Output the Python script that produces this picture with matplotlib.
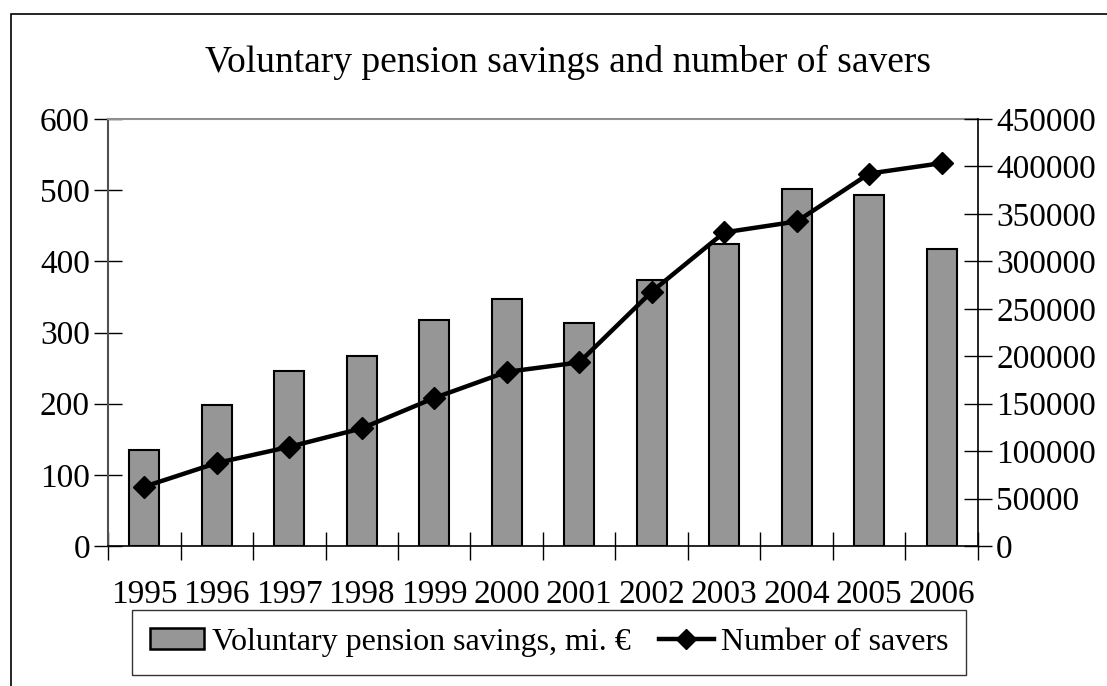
import matplotlib
matplotlib.use("Agg")
import matplotlib.pyplot as plt
from matplotlib.patches import Rectangle
from matplotlib.lines import Line2D
import numpy as np

years = ["1995", "1996", "1997", "1998", "1999", "2000", "2001", "2002", "2003", "2004", "2005", "2006"]
savings = [135, 198, 246, 267, 318, 347, 314, 374, 425, 502, 493, 418]
savers = [62500, 87500, 104500, 124000, 156000, 183500, 193500, 268000, 330500, 342000, 392500, 403500]

plt.rcParams['font.family'] = ['Liberation Serif', 'DejaVu Serif']
FS = 24

fig = plt.figure(figsize=(11.07, 6.86), dpi=100)
# outer chart frame
fig.patches.append(Rectangle((11/1107, -0.1), 1.2, (686-14)/686 + 0.1, transform=fig.transFigure,
                             fill=False, edgecolor='black', linewidth=1.2))

ax = fig.add_axes([108/1107, (686-546)/686, (978-108)/1107, (546-119)/686])
x = np.arange(len(years))
ax.bar(x, savings, width=0.41, color='#969696', edgecolor='black', linewidth=1.5, zorder=2)
ax.set_xlim(-0.5, len(years) - 0.5)
ax.set_ylim(0, 600)
ax.set_yticks(np.arange(0, 601, 100))
ax.set_xticks(x)
ax.set_xticklabels(years)
ax.set_xticks(np.arange(-0.5, len(years), 1), minor=True)
ax.tick_params(axis='x', which='major', length=0, pad=24, labelsize=FS)
ax.tick_params(axis='x', which='minor', direction='inout', length=20, width=1)
ax.tick_params(axis='y', direction='inout', length=20, width=1, labelsize=FS, pad=3)
ax.spines['top'].set_color('#909090')
ax.spines['top'].set_linewidth(1.5)
ax.spines['right'].set_visible(False)
ax.spines['left'].set_color('#505050')
ax.spines['left'].set_linewidth(1.5)
ax.spines['bottom'].set_linewidth(1.2)

ax2 = ax.twinx()
ax2.plot(x, savers, color='black', linewidth=3.2, marker='D', markersize=11, zorder=3)
ax2.set_ylim(0, 450000)
ax2.set_yticks(np.arange(0, 450001, 50000))
ax2.tick_params(axis='y', direction='inout', length=20, width=1, labelsize=FS, pad=3)
for s in ['top', 'left', 'bottom']:
    ax2.spines[s].set_visible(False)
ax2.spines['right'].set_linewidth(1.2)

fig.text(0.513, (686-62)/686, "Voluntary pension savings and number of savers", ha='center', va='center', fontsize=27)

handles = [Rectangle((0, 0), 1, 1, facecolor='#969696', edgecolor='black', linewidth=1.8),
           Line2D([], [], color='black', linewidth=3.2, marker='D', markersize=10)]
leg = fig.legend(handles, ["Voluntary pension savings, mi. €", "Number of savers"],
                 loc='center', bbox_to_anchor=(549/1107, (686-642.5)/686), ncol=2, fontsize=23,
                 frameon=True, fancybox=False, edgecolor='black', handlelength=1.72,
                 handleheight=0.62, handletextpad=0.22, columnspacing=0.9, borderpad=0.55,
                 borderaxespad=0)
leg.get_frame().set_linewidth(1.0)

fig.savefig("out.png", dpi=100)
